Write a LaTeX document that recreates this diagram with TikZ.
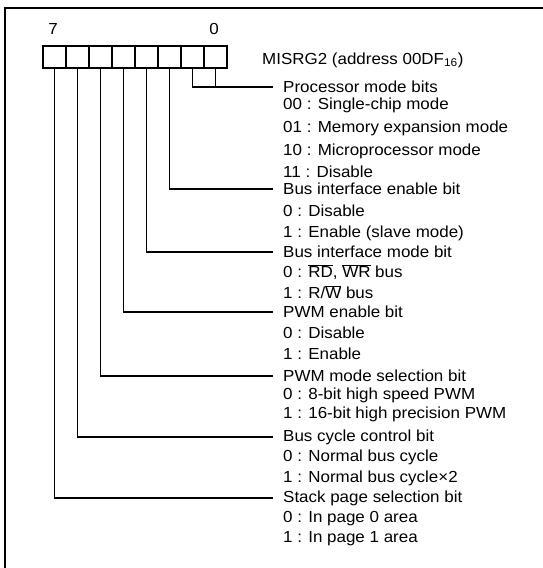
\documentclass[tikz,border=0pt]{standalone}
\usepackage{fontspec}
\setmainfont{Liberation Sans}[FakeStretch=1.06]
\usepackage{tikz}
\newcommand{\ovl}[1]{\ensuremath{\overline{\hbox{#1}}}}

\begin{document}
\begin{tikzpicture}[x=1pt, y=-1pt,
    cell/.style={draw, line width=1.2pt, minimum width=23pt, minimum height=22pt, inner sep=0pt},
    lbl/.style={anchor=west, inner xsep=10pt, inner ysep=0pt},
    txt/.style={anchor=west, inner sep=0pt},
    wire/.style={line width=1.2pt}]
  \fontsize{16pt}{19pt}\selectfont
  \useasboundingbox (0,0) rectangle (543,568);

  % Frame (only top and left edges are in view)
  \draw[line width=1.8pt] (5,568) -- (5,8) -- (543,8);

  % Register cells, bit 0 at the right
  \foreach \i in {0,...,7}
    \node[cell] (b\i) at ({215.5-23*\i}, 57) {};
  \node (n7) at (53,29) {7};
  \node (n0) at (214,29) {0};
  \node[txt] (reg) at (262,60) {MISRG2 (address 00DF\textsubscript{16})};

  % Bits 1 and 0: processor mode bits
  \coordinate (pm) at (215.5,87);
  \node[lbl] (l0) at (273,87) {Processor mode bits};
  \draw[wire] (b1.south) |- (pm) -- (b0.south);
  \draw[wire] (pm) -- (l0.west);
  \node[txt] at (283,105) {00 : Single-chip mode};
  \node[txt] at (283,128) {01 : Memory expansion mode};
  \node[txt] at (283,151) {10 : Microprocessor mode};
  \node[txt] at (283,172) {11 : Disable};

  % Bit 2
  \node[lbl] (l2) at (273,189) {Bus interface enable bit};
  \draw[wire] (b2.south) |- (l2.west);
  \node[txt] at (283,211) {0 : Disable};
  \node[txt] at (283,233) {1 : Enable (slave mode)};

  % Bit 3
  \node[lbl] (l3) at (273,252) {Bus interface mode bit};
  \draw[wire] (b3.south) |- (l3.west);
  \node[txt] at (283,272) {0 : \ovl{RD}, \ovl{WR} bus};
  \node[txt] at (283,292) {1 : R/\ovl{W} bus};

  % Bit 4
  \node[lbl] (l4) at (273,312) {PWM enable bit};
  \draw[wire] (b4.south) |- (l4.west);
  \node[txt] at (283,333) {0 : Disable};
  \node[txt] at (283,354) {1 : Enable};

  % Bit 5
  \node[lbl] (l5) at (273,376) {PWM mode selection bit};
  \draw[wire] (b5.south) |- (l5.west);
  \node[txt] at (283,395) {0 : 8-bit high speed PWM};
  \node[txt] at (283,414) {1 : 16-bit high precision PWM};

  % Bit 6
  \node[lbl] (l6) at (273,437) {Bus cycle control bit};
  \draw[wire] (b6.south) |- (l6.west);
  \node[txt] at (283,457) {0 : Normal bus cycle};
  \node[txt] at (283,478) {1 : Normal bus cycle×2};

  % Bit 7
  \node[lbl] (l7) at (273,498) {Stack page selection bit};
  \draw[wire] (b7.south) |- (l7.west);
  \node[txt] at (283,519) {0 : In page 0 area};
  \node[txt] at (283,539) {1 : In page 1 area};
\end{tikzpicture}
\end{document}
